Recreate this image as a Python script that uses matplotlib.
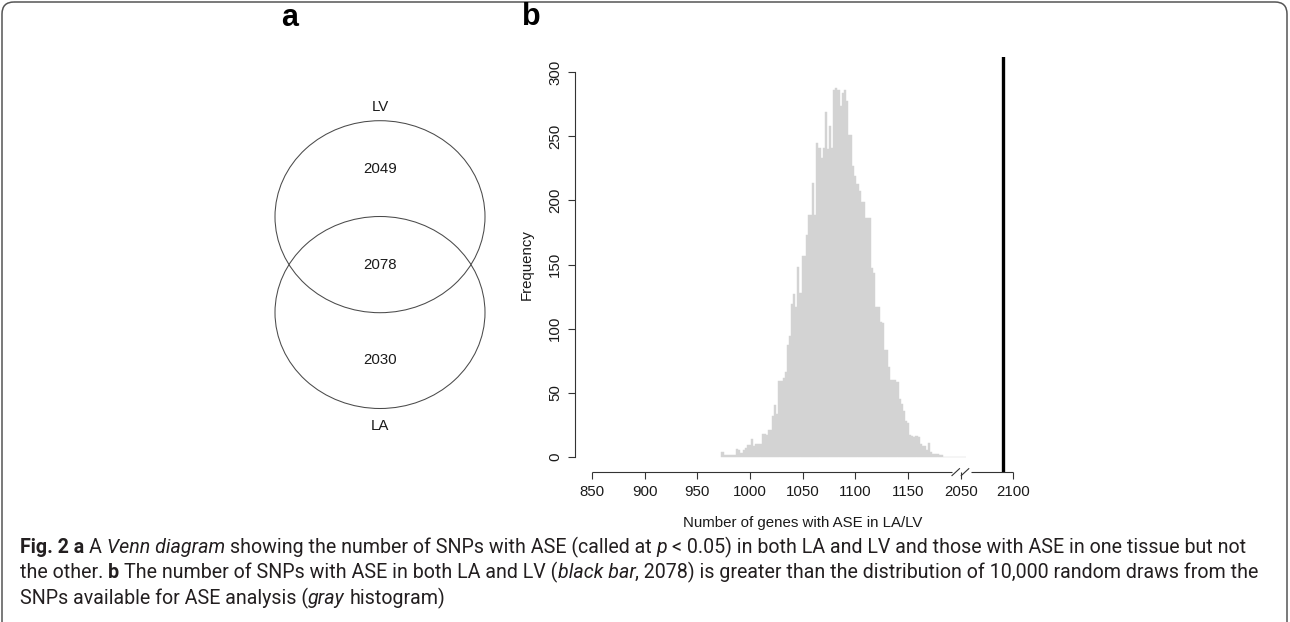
import matplotlib
matplotlib.use('Agg')
import matplotlib.pyplot as plt
import numpy as np
from matplotlib.patches import Ellipse, FancyBboxPatch
from matplotlib.lines import Line2D

W, H = 1290, 622

# ---------------- data ----------------
venn_sets = ['LV', 'LA']
venn_counts = [2049, 2078, 2030]          # LV only, both, LA only

bin_start = 973
bin_width = 2
hist_counts = [
    4, 1, 1, 1, 1, 1, 1, 6, 5, 3,
    5, 7, 9, 9, 14, 8, 10, 10, 10, 18,
    18, 17, 21, 21, 32, 40, 33, 59, 59, 61,
    66, 87, 94, 119, 127, 117, 148, 128, 157, 157,
    173, 189, 189, 214, 189, 245, 241, 233, 241, 269,
    240, 258, 241, 286, 288, 286, 274, 284, 286, 278,
    251, 251, 227, 219, 213, 207, 199, 199, 186, 186,
    186, 147, 143, 117, 117, 105, 104, 83, 83, 70,
    60, 60, 60, 58, 45, 41, 36, 28, 26, 17,
    16, 15, 16, 15, 10, 8, 8, 5, 11, 4,
    2, 2, 2, 1, 1, 0, 0, 0, 0, 0,
    0, 0, 0, 0, 0, 0,
]
observed_value = 2090                      # black bar (as drawn on broken axis)
xtick_values = [850, 900, 950, 1000, 1050, 1100, 1150, 2050, 2100]
ytick_values = [0, 50, 100, 150, 200, 250, 300]
break_from, break_to = 1200, 2050

caption_lines = [
    [("Fig. 2 a", 'bold'), (" A ", 'normal'), ("Venn diagram", 'italic'),
     (" showing the number of SNPs with ASE (called at ", 'normal'), ("p", 'italic'),
     (" < 0.05) in both LA and LV and those with ASE in one tissue but not", 'normal')],
    [("the other. ", 'normal'), ("b", 'bold'),
     (" The number of SNPs with ASE in both LA and LV (", 'normal'), ("black bar", 'italic'),
     (", 2078) is greater than the distribution of 10,000 random draws from the", 'normal')],
    [("SNPs available for ASE analysis (", 'normal'), ("gray", 'italic'), (" histogram)", 'normal')],
]


def to_axis(v):
    v = np.asarray(v, dtype=float)
    return np.where(v >= break_to, v - (break_to - break_from), v)


plt.rcParams['font.family'] = ['Liberation Sans', 'DejaVu Sans']
fig = plt.figure(figsize=(W / 100, H / 100), dpi=100)

# background axes in pixel coordinates (frame, Venn, captions)
bg = fig.add_axes([0, 0, 1, 1])
bg.set_xlim(0, W)
bg.set_ylim(H, 0)
bg.axis('off')

frame = FancyBboxPatch((2, 2), W - 5, H + 40, boxstyle='round,pad=0,rounding_size=12',
                       fc='none', ec='#555555', lw=1.1, clip_on=False)
bg.add_patch(frame)

# panel letters
bg.text(290, 18, 'a', fontsize=22, fontweight='bold', ha='center', va='center', color='#000000')
bg.text(531, 17, 'b', fontsize=22, fontweight='bold', ha='center', va='center', color='#000000')

# ---------------- Venn diagram ----------------
FS = 10.8
cx, ew, eh = 380, 210, 192
top_cy, bot_cy = 216.7, 312.5
for cy in (top_cy, bot_cy):
    bg.add_patch(Ellipse((cx, cy), ew, eh, fc='none', ec='#4a4a4a', lw=0.75))
bg.text(cx, top_cy - eh / 2 - 14, venn_sets[0], fontsize=FS, ha='center', va='center', color='#1a1a1a')
bg.text(cx, bot_cy + eh / 2 + 18, venn_sets[1], fontsize=FS, ha='center', va='center', color='#1a1a1a')
bg.text(cx, top_cy - 48, str(venn_counts[0]), fontsize=FS, ha='center', va='center', color='#1a1a1a')
bg.text(cx, (top_cy + bot_cy) / 2, str(venn_counts[1]), fontsize=FS, ha='center', va='center', color='#1a1a1a')
bg.text(cx, bot_cy + 48, str(venn_counts[2]), fontsize=FS, ha='center', va='center', color='#1a1a1a')

# ---------------- histogram ----------------
ax_l, ax_r, ax_t, ax_b = 575, 1030.3, 57, 472
ax = fig.add_axes([ax_l / W, (H - ax_b) / H, (ax_r - ax_l) / W, (ax_b - ax_t) / H])
ax.patch.set_alpha(0)
edges = bin_start + bin_width * np.arange(len(hist_counts))
ax.bar(edges, hist_counts, width=bin_width, align='edge', color='#d3d3d3',
       edgecolor='#d3d3d3', linewidth=0.3)
ax.axvline(to_axis(observed_value), color='black', lw=2.4)

ax.set_xlim(834, 1266)
ax.set_ylim(-12, 312)
for s in ('top', 'right', 'bottom'):
    ax.spines[s].set_visible(False)
ax.spines['left'].set_bounds(0, 300)
ax.spines['left'].set_color('#333333')
ax.spines['left'].set_linewidth(0.8)

ax.set_xticks(to_axis(xtick_values))
ax.set_xticklabels([str(v) for v in xtick_values])
ax.set_yticks(ytick_values)
ax.set_yticklabels([str(v) for v in ytick_values])
ax.tick_params(axis='both', direction='out', length=4.8, width=0.8, color='#333333',
               labelsize=FS, labelcolor='#1a1a1a')
ax.tick_params(axis='x', pad=4.5)
ax.tick_params(axis='y', pad=4.5, labelrotation=90)
for lab in ax.get_yticklabels():
    lab.set_va('center')

# bottom axis line with a break
seg_kw = dict(color='#333333', lw=0.8, clip_on=False, solid_capstyle='butt')
ax.add_line(Line2D([850, 1191.3], [-12, -12], **seg_kw))
ax.add_line(Line2D([1209.7, 1250], [-12, -12], **seg_kw))
ax.add_line(Line2D([1191.3, 1199.2], [-15.1, -9.1], **seg_kw))
ax.add_line(Line2D([1200.1, 1208.0], [-15.1, -9.1], **seg_kw))

ax.set_xlabel('Number of genes with ASE in LA/LV', fontsize=FS, color='#1a1a1a')
ax.set_ylabel('Frequency', fontsize=FS, color='#1a1a1a')
ax.xaxis.set_label_coords(0.5, (ax_b - 523) / (ax_b - ax_t))
ax.xaxis.label.set_va('center')
ax.yaxis.set_label_coords((527 - ax_l) / (ax_r - ax_l), 0.5)
ax.yaxis.label.set_va('center')
ax.yaxis.label.set_ha('center')

# ---------------- caption ----------------
renderer = fig.canvas.get_renderer()
cap_family = ['Roboto', 'DejaVu Sans']
style_kw = {'bold': dict(fontweight='bold'), 'italic': dict(fontstyle='italic'), 'normal': {}}
cap_color = '#231f20'


def text_width(s, style, size):
    if not s:
        return 0.0
    t = bg.text(0, 0, s, fontsize=size, family=cap_family, **style_kw[style])
    w = t.get_window_extent(renderer).width
    t.remove()
    return w


def line_width(runs, size):
    sp = text_width('n n', 'normal', size) - text_width('nn', 'normal', size)
    total = 0.0
    for s, st in runs:
        core = s.strip(' ')
        lead = len(s) - len(s.lstrip(' '))
        trail = len(s) - len(s.rstrip(' '))
        total += lead * sp + text_width(core, st, size) + trail * sp
    return total


def draw_line(runs, x0, y, size):
    sp = text_width('n n', 'normal', size) - text_width('nn', 'normal', size)
    x = x0
    for s, st in runs:
        core = s.strip(' ')
        lead = len(s) - len(s.lstrip(' '))
        trail = len(s) - len(s.rstrip(' '))
        x += lead * sp
        bg.text(x, y, core, fontsize=size, family=cap_family, color=cap_color,
                ha='left', va='baseline', **style_kw[st])
        x += text_width(core, st, size) + trail * sp


cap_x0, cap_x1 = 20, 1254
size = 12.0
wmax = max(line_width(caption_lines[0], size), line_width(caption_lines[1], size))
size = size * (cap_x1 - cap_x0) / wmax
baselines = [553, 578.5, 604]
for runs, yb in zip(caption_lines, baselines):
    draw_line(runs, cap_x0, yb, size)

fig.savefig('out.png', dpi=100, facecolor='white')
